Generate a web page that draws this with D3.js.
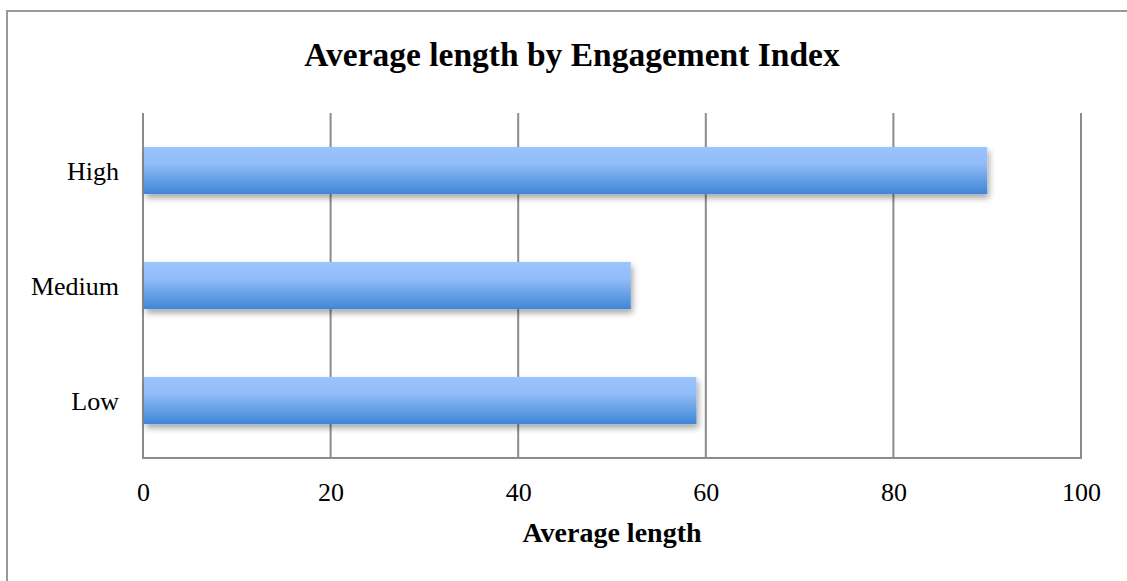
<!DOCTYPE html>
<html><head><meta charset="utf-8">
<script src="https://cdn.jsdelivr.net/npm/d3@7/dist/d3.min.js"></script>
<style>html,body{margin:0;padding:0;background:#fff;}svg{display:block;}</style>
</head><body>
<svg id="chart" width="1127" height="581"></svg>
<script>
const categories = ["High", "Medium", "Low"];
const values = [90, 52, 59];
const xTicks = [0, 20, 40, 60, 80, 100];
const title = "Average length by Engagement Index";
const xTitle = "Average length";

const svg = d3.select("#chart");
const W = 1127, H = 581;
const m = {left: 143, right: 1081, top: 113, bottom: 458};
const font = "'Liberation Serif', 'DejaVu Serif', serif";

svg.append("rect").attr("x", 7).attr("y", 11).attr("width", 1140).attr("height", 600)
  .attr("fill", "#fff").attr("stroke", "#999").attr("stroke-width", 2);

const defs = svg.append("defs");
const g1 = defs.append("linearGradient").attr("id", "barGrad").attr("x1", 0).attr("y1", 0).attr("x2", 0).attr("y2", 1);
g1.append("stop").attr("offset", "0%").attr("stop-color", "#9cc4fd");
g1.append("stop").attr("offset", "35%").attr("stop-color", "#92bcf8");
g1.append("stop").attr("offset", "100%").attr("stop-color", "#3f86d6");
const f = defs.append("filter").attr("id", "shadow").attr("x", "-5%").attr("y", "-30%").attr("width", "110%").attr("height", "170%");
f.append("feGaussianBlur").attr("in", "SourceAlpha").attr("stdDeviation", 3).attr("result", "b");
f.append("feOffset").attr("in", "b").attr("dx", 2).attr("dy", 4).attr("result", "o");
f.append("feComponentTransfer").attr("in", "o").attr("result", "o2")
  .append("feFuncA").attr("type", "linear").attr("slope", 0.35);
const fm = f.append("feMerge");
fm.append("feMergeNode").attr("in", "o2");
fm.append("feMergeNode").attr("in", "SourceGraphic");

const x = d3.scaleLinear().domain([0, 100]).range([m.left, m.right]);
const y = d3.scaleBand().domain(categories).range([m.top, m.bottom]).paddingInner(0.59).paddingOuter(0.295);

// gridlines
svg.append("g").selectAll("line").data(xTicks).join("line")
  .attr("x1", d => x(d)).attr("x2", d => x(d))
  .attr("y1", m.top).attr("y2", m.bottom)
  .attr("stroke", "#8c8c8c").attr("stroke-width", 2);
// bottom axis line
svg.append("line").attr("x1", m.left - 1).attr("x2", m.right + 1).attr("y1", m.bottom).attr("y2", m.bottom)
  .attr("stroke", "#8c8c8c").attr("stroke-width", 2);

// bars
svg.append("g").selectAll("rect").data(categories).join("rect")
  .attr("x", x(0) + 1).attr("y", d => y(d))
  .attr("width", (d, i) => x(values[i]) - x(0) - 1)
  .attr("height", y.bandwidth())
  .attr("fill", "url(#barGrad)").attr("filter", "url(#shadow)");

// axes
const xAxis = d3.axisBottom(x).tickValues(xTicks).tickSize(0).tickPadding(0);
const gx = svg.append("g").attr("transform", `translate(0,${m.bottom})`).call(xAxis);
gx.select(".domain").remove();
gx.selectAll("text").attr("dy", null).attr("y", 43).style("font-family", font).style("font-size", "26px").attr("fill", "#000");

const yAxis = d3.axisLeft(y).tickSize(0).tickPadding(0);
const gy = svg.append("g").attr("transform", `translate(${m.left - 24},0)`).call(yAxis);
gy.select(".domain").remove();
gy.selectAll("text").attr("dy", "0.35em").style("font-family", font).style("font-size", "26px").attr("fill", "#000");

svg.append("text").attr("x", 572).attr("y", 66).attr("text-anchor", "middle")
  .style("font-family", font).style("font-weight", "bold").style("font-size", "33.5px").text(title);
svg.append("text").attr("x", (m.left + m.right) / 2).attr("y", 542).attr("text-anchor", "middle")
  .style("font-family", font).style("font-weight", "bold").style("font-size", "28px").text(xTitle);
</script>
</body></html>
